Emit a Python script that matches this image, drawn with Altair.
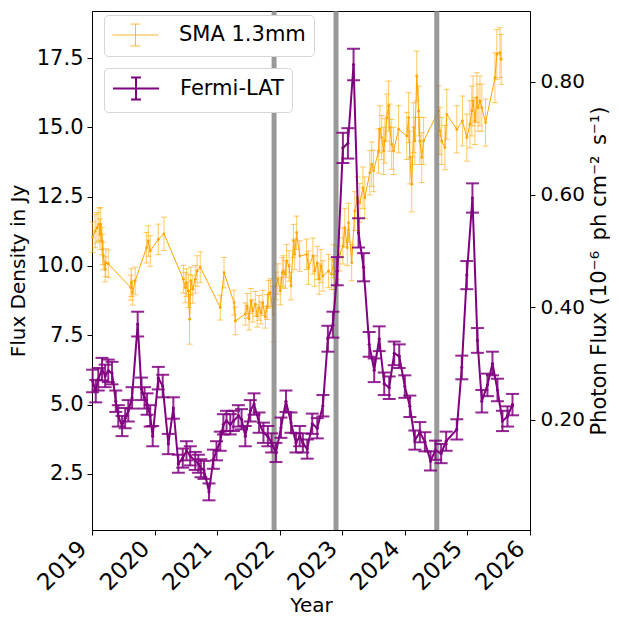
import altair as alt
import pandas as pd

# ---------------- data ----------------
year_ticks = [2019, 2020, 2021, 2022, 2023, 2024, 2025, 2026]
flux_ticks = [2.5, 5.0, 7.5, 10.0, 12.5, 15.0, 17.5]
photon_ticks = [0.2, 0.4, 0.6, 0.8]
event_dates = [2021.91, 2022.90, 2024.51]

sma_year = [2019.01, 2019.05, 2019.08, 2019.11, 2019.13, 2019.14, 2019.16, 2019.17, 2019.18, 2019.21,
            2019.22, 2019.26, 2019.62, 2019.63, 2019.65, 2019.69, 2019.87, 2019.90, 2019.93, 2020.06,
            2020.15, 2020.46, 2020.49, 2020.51, 2020.54, 2020.56, 2020.58, 2020.61, 2020.65, 2020.68,
            2020.73, 2021.05, 2021.11, 2021.27, 2021.29, 2021.45, 2021.48, 2021.51, 2021.54, 2021.57,
            2021.61, 2021.64, 2021.67, 2021.70, 2021.73, 2021.77, 2021.80, 2021.82, 2021.85, 2021.90,
            2021.94, 2021.97, 2022.01, 2022.04, 2022.06, 2022.09, 2022.11, 2022.15, 2022.18, 2022.22,
            2022.24, 2022.27, 2022.32, 2022.43, 2022.46, 2022.53, 2022.56, 2022.60, 2022.63, 2022.66,
            2022.69, 2022.78, 2022.83, 2022.86, 2022.88, 2022.92, 2022.96, 2023.01, 2023.04, 2023.08,
            2023.10, 2023.15, 2023.20, 2023.24, 2023.28, 2023.33, 2023.36, 2023.44, 2023.47, 2023.50,
            2023.58, 2023.60, 2023.63, 2023.66, 2023.68, 2023.71, 2023.74, 2023.76, 2023.79, 2023.82,
            2023.90, 2024.03, 2024.06, 2024.08, 2024.11, 2024.14, 2024.16, 2024.19, 2024.22, 2024.24,
            2024.27, 2024.30, 2024.54, 2024.56, 2024.59, 2024.64, 2024.67, 2024.83, 2024.92, 2024.99,
            2025.04, 2025.07, 2025.09, 2025.12, 2025.15, 2025.17, 2025.20, 2025.23, 2025.29, 2025.44,
            2025.47, 2025.52, 2025.54]
sma_flux = [11.04, 11.26, 11.38, 11.50, 11.14, 11.50, 10.90, 10.60, 10.36, 9.88,
            10.12, 10.08, 9.22, 9.40, 9.04, 9.46, 10.66, 10.90, 10.54, 10.96,
            11.16, 9.52, 9.22, 9.40, 9.10, 8.08, 9.46, 9.16, 9.52, 9.82,
            9.96, 8.50, 9.76, 8.68, 8.02, 8.27, 8.56, 8.09, 8.74, 8.38,
            8.63, 8.20, 8.49, 8.31, 8.67, 8.16, 8.52, 8.98, 9.04, 8.26,
            9.28, 9.53, 9.10, 9.75, 9.82, 9.70, 10.18, 10.00, 9.28, 10.90,
            10.42, 11.20, 10.36, 10.42, 9.94, 10.36, 9.82, 10.11, 9.53, 10.00,
            9.64, 9.82, 9.70, 10.18, 9.70, 10.11, 10.42, 10.72, 11.38, 10.66,
            11.56, 10.12, 11.98, 12.46, 12.28, 12.82, 12.46, 13.36, 13.67, 13.43,
            14.15, 14.93, 14.63, 14.15, 14.51, 15.35, 15.77, 14.99, 14.39, 14.15,
            14.93, 14.69, 15.35, 13.91, 12.95, 14.99, 14.51, 16.85, 15.59, 14.51,
            13.91, 14.51, 15.59, 14.87, 14.51, 14.27, 15.47, 14.93, 15.23, 14.63,
            15.11, 15.59, 15.95, 15.23, 16.07, 15.71, 15.95, 15.71, 15.17, 16.79,
            17.63, 17.69, 17.45]
sma_err = [0.55, 0.60, 0.55, 0.60, 0.55, 0.60, 0.50, 0.55, 0.50, 0.45,
           0.50, 0.50, 0.45, 0.50, 0.45, 0.50, 0.55, 0.55, 0.55, 0.55,
           0.60, 0.50, 0.55, 0.50, 0.60, 0.90, 0.50, 0.50, 0.50, 0.55,
           0.55, 0.45, 0.55, 0.45, 0.50, 0.40, 0.45, 0.40, 0.45, 0.40,
           0.45, 0.40, 0.45, 0.40, 0.45, 0.40, 0.45, 0.50, 0.50, 1.00,
           0.50, 0.55, 0.50, 0.55, 0.55, 0.50, 0.60, 0.55, 0.50, 0.60,
           0.55, 0.60, 0.55, 0.55, 0.60, 0.65, 0.55, 0.60, 0.55, 0.60,
           0.55, 0.60, 0.55, 0.60, 0.55, 0.60, 0.60, 0.65, 0.70, 0.65,
           0.70, 0.65, 0.70, 0.75, 0.70, 0.75, 0.75, 0.80, 0.80, 0.75,
           0.80, 0.85, 0.80, 0.85, 0.80, 0.85, 0.90, 0.85, 0.90, 0.85,
           0.85, 0.85, 0.90, 0.95, 1.00, 0.90, 0.85, 0.90, 0.90, 0.85,
           0.90, 0.85, 0.90, 0.85, 0.85, 0.80, 0.90, 0.85, 0.90, 0.85,
           0.85, 0.90, 0.90, 0.85, 0.90, 0.85, 0.90, 0.85, 0.85, 0.90,
           0.90, 0.90, 0.90]

fermi_year = [2019.01, 2019.06, 2019.10, 2019.16, 2019.21, 2019.26, 2019.32, 2019.38, 2019.42, 2019.48,
              2019.53, 2019.58, 2019.64, 2019.73, 2019.79, 2019.84, 2019.88, 2019.93, 2019.97,
              2020.06, 2020.13, 2020.22, 2020.30, 2020.38, 2020.45, 2020.51, 2020.57, 2020.65, 2020.70,
              2020.74, 2020.79, 2020.87, 2020.94, 2020.99,
              2021.05, 2021.10, 2021.15, 2021.21, 2021.26, 2021.34, 2021.39, 2021.45, 2021.53, 2021.59,
              2021.67, 2021.74, 2021.81, 2021.87, 2021.94,
              2022.02, 2022.10, 2022.18, 2022.26, 2022.32, 2022.37, 2022.44, 2022.52, 2022.60, 2022.69,
              2022.77, 2022.85, 2022.92,
              2023.01, 2023.09, 2023.18, 2023.26, 2023.34, 2023.43, 2023.51, 2023.59, 2023.67, 2023.75,
              2023.83, 2023.91,
              2024.00, 2024.08, 2024.16, 2024.24, 2024.32, 2024.41, 2024.49, 2024.58, 2024.66, 2024.83,
              2024.91, 2024.99,
              2025.08, 2025.16, 2025.23, 2025.32, 2025.40, 2025.48, 2025.56, 2025.64, 2025.72]
fermi_flux = [0.269, 0.251, 0.272, 0.290, 0.278, 0.287, 0.283, 0.233, 0.207, 0.189,
              0.203, 0.216, 0.239, 0.370, 0.255, 0.239, 0.228, 0.207, 0.171,
              0.274, 0.260, 0.157, 0.221, 0.122, 0.132, 0.145, 0.136, 0.127, 0.122,
              0.114, 0.111, 0.072, 0.130, 0.145,
              0.162, 0.192, 0.198, 0.192, 0.198, 0.207, 0.201, 0.171, 0.216, 0.228,
              0.195, 0.177, 0.171, 0.159, 0.142,
              0.186, 0.233, 0.195, 0.159, 0.171, 0.159, 0.148, 0.193, 0.185, 0.225,
              0.344, 0.369, 0.464,
              0.683, 0.691, 0.831, 0.532, 0.471, 0.334, 0.288, 0.344, 0.264, 0.257,
              0.318, 0.313,
              0.259, 0.224, 0.164, 0.178, 0.161, 0.127, 0.146, 0.140, 0.162, 0.183,
              0.293, 0.457,
              0.594, 0.341, 0.233, 0.262, 0.300, 0.253, 0.198, 0.206, 0.227]
fermi_err = [0.020, 0.020, 0.020, 0.020, 0.020, 0.020, 0.020, 0.019, 0.019, 0.018,
             0.018, 0.019, 0.019, 0.022, 0.020, 0.019, 0.019, 0.019, 0.018,
             0.020, 0.020, 0.018, 0.019, 0.016, 0.017, 0.017, 0.017, 0.016, 0.016,
             0.016, 0.016, 0.015, 0.017, 0.017,
             0.017, 0.018, 0.018, 0.018, 0.018, 0.019, 0.018, 0.018, 0.019, 0.019,
             0.018, 0.018, 0.018, 0.017, 0.017,
             0.018, 0.019, 0.018, 0.017, 0.018, 0.017, 0.017, 0.018, 0.018, 0.019,
             0.023, 0.023, 0.025,
             0.027, 0.027, 0.028, 0.026, 0.025, 0.022, 0.021, 0.022, 0.020, 0.020,
             0.021, 0.021,
             0.020, 0.019, 0.017, 0.018, 0.017, 0.017, 0.017, 0.017, 0.017, 0.018,
             0.021, 0.025,
             0.026, 0.022, 0.020, 0.020, 0.021, 0.020, 0.018, 0.018, 0.019]

# ---------------- tables ----------------
sma = pd.DataFrame({"year": sma_year, "flux": sma_flux, "err": sma_err})
sma["lo"] = sma["flux"] - sma["err"]
sma["hi"] = sma["flux"] + sma["err"]
sma["series"] = "SMA 1.3mm"

fermi = pd.DataFrame({"year": fermi_year, "flux": fermi_flux, "err": fermi_err})
fermi["lo"] = fermi["flux"] - fermi["err"]
fermi["hi"] = fermi["flux"] + fermi["err"]
fermi["series"] = "Fermi-LAT"

events = pd.DataFrame({"date": event_dates})

ORANGE = "#FFA500"
PURPLE = "#800080"
FONT = "DejaVu Sans"
# error-bar legend glyph: horizontal line with a capped vertical bar in the middle
ERR_PATH = "M-1,0L3,0M1,-0.95L1,0.95M0.57,-0.95L1.43,-0.95M0.57,0.95L1.43,0.95"

xscale = alt.Scale(domain=[2019, 2026], nice=False, zero=False)
xaxis = alt.Axis(values=year_ticks, format="d", labelAngle=-45, labelAlign="right",
                 labelBaseline="top", labelOffset=-17, labelFontSize=23, labelPadding=2,
                 title="Year", titlePadding=1, titleFontSize=20)


def X(field="year"):
    return alt.X(f"{field}:Q", scale=xscale, axis=xaxis)


left_scale = alt.Scale(domain=[0.48, 19.195], nice=False, zero=False)
left_axis = alt.Axis(values=flux_ticks, format=".1f", title="Flux Density in Jy",
                     orient="left", titlePadding=8, labelFontSize=21, titleFontSize=20,
                     labelPadding=4)
right_scale = alt.Scale(domain=[0.0043, 0.9261], nice=False, zero=False)
right_axis = alt.Axis(values=photon_ticks, format=".2f",
                      title="Photon Flux (10\u207b\u2076\u2002ph cm\u207b\u00b2\u2002s\u207b\u00b9)",
                      orient="right", titleAngle=270, titleBaseline="top", titlePadding=4,
                      labelFontSize=20, titleFontSize=21, labelPadding=5)


def YL(field):
    return alt.Y(f"{field}:Q", scale=left_scale, axis=left_axis)


def YR(field):
    return alt.Y(f"{field}:Q", scale=right_scale, axis=right_axis)


def legend_for(y, stroke_width, opacity):
    return alt.Legend(title=None, orient="none", legendX=12, legendY=y,
                      symbolType=ERR_PATH, symbolSize=529,
                      symbolStrokeWidth=stroke_width, symbolOpacity=opacity,
                      symbolFillColor="transparent",
                      labelFont=FONT, labelFontSize=21, labelColor="black",
                      labelOffset=43, padding=8, cornerRadius=4,
                      strokeColor="#d6d6d6", fillColor="white")


# ---------------- SMA layers ----------------
sma_base = alt.Chart(sma)
sma_bars = sma_base.mark_rule(color=ORANGE, opacity=0.6, strokeWidth=1).encode(
    x=X(), y=YL("lo"), y2="hi:Q")
sma_cap_lo = sma_base.mark_tick(color=ORANGE, opacity=0.6, orient="horizontal",
                                size=6, thickness=1).encode(x=X(), y=YL("lo"))
sma_cap_hi = sma_base.mark_tick(color=ORANGE, opacity=0.6, orient="horizontal",
                                size=6, thickness=1).encode(x=X(), y=YL("hi"))
sma_line = sma_base.mark_line(strokeWidth=1).encode(
    x=X(), y=YL("flux"),
    color=alt.Color("series:N",
                    scale=alt.Scale(domain=["SMA 1.3mm"], range=[ORANGE]),
                    legend=legend_for(4, 1, 0.8)))
sma_pts = sma_base.mark_circle(color=ORANGE, size=8, opacity=1).encode(x=X(), y=YL("flux"))

rules = alt.Chart(events).mark_rule(color="#808080", opacity=0.8, strokeWidth=5).encode(
    x=X("date"))

left = alt.layer(sma_bars, sma_cap_lo, sma_cap_hi, sma_line, sma_pts, rules)

# ---------------- Fermi layers ----------------
f_base = alt.Chart(fermi)
f_bars = f_base.mark_rule(color=PURPLE, opacity=0.85, strokeWidth=2).encode(
    x=X(), y=YR("lo"), y2="hi:Q")
f_cap_lo = f_base.mark_tick(color=PURPLE, opacity=0.85, orient="horizontal",
                            size=13, thickness=2).encode(x=X(), y=YR("lo"))
f_cap_hi = f_base.mark_tick(color=PURPLE, opacity=0.85, orient="horizontal",
                            size=13, thickness=2).encode(x=X(), y=YR("hi"))
f_line = f_base.mark_line(strokeWidth=2).encode(
    x=X(), y=YR("flux"),
    color=alt.Color("series:N",
                    scale=alt.Scale(domain=["Fermi-LAT"], range=[PURPLE]),
                    legend=legend_for(57, 2, 1)))
f_pts = f_base.mark_circle(color=PURPLE, size=10, opacity=1).encode(x=X(), y=YR("flux"))

right = alt.layer(f_bars, f_cap_lo, f_cap_hi, f_line, f_pts)

chart = alt.layer(left, right).resolve_scale(
    y="independent", color="independent"
).properties(
    width=438, height=519,
    padding={"left": 0, "top": 0, "right": 0, "bottom": 0},
).configure_view(
    stroke="black", strokeWidth=1
).configure_axis(
    labelFont=FONT, titleFont=FONT,
    titleFontWeight="normal", labelColor="black", titleColor="black",
    domainColor="black", tickColor="black", tickSize=5, grid=False,
)

chart.save("out.html", embed_options={"renderer": "svg", "actions": False})
